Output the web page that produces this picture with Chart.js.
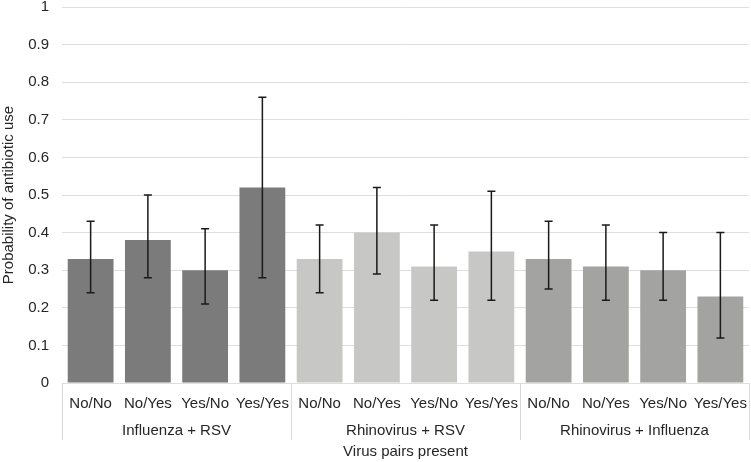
<!DOCTYPE html>
<html>
<head>
<meta charset="utf-8">
<script src="https://cdn.jsdelivr.net/npm/chart.js@4.4.0/dist/chart.umd.min.js"></script>
<style>
  html, body { margin: 0; padding: 0; background: #fff; }
  #wrap { width: 751px; height: 462px; }
</style>
</head>
<body>
<div id="wrap"><canvas id="chart" width="751" height="462"></canvas></div>
<script>
// Probability of antibiotic use by virus pair combination
const groups = ['Influenza + RSV', 'Rhinovirus + RSV', 'Rhinovirus + Influenza'];
const categories = ['No/No', 'No/Yes', 'Yes/No', 'Yes/Yes',
                    'No/No', 'No/Yes', 'Yes/No', 'Yes/Yes',
                    'No/No', 'No/Yes', 'Yes/No', 'Yes/Yes'];
const values = [0.33, 0.38, 0.30, 0.52, 0.33, 0.40, 0.31, 0.35, 0.33, 0.31, 0.30, 0.23];
const lower  = [0.24, 0.28, 0.21, 0.28, 0.24, 0.29, 0.22, 0.22, 0.25, 0.22, 0.22, 0.12];
const upper  = [0.43, 0.50, 0.41, 0.76, 0.42, 0.52, 0.42, 0.51, 0.43, 0.42, 0.40, 0.40];
const yTicks = [0, 0.1, 0.2, 0.3, 0.4, 0.5, 0.6, 0.7, 0.8, 0.9, 1];

const groupColors = ['#7b7b7b', '#c7c8c5', '#a3a3a1'];
const perGroup = categories.length / groups.length;
const barColors = categories.map((c, i) => groupColors[Math.floor(i / perGroup)]);

const fontFamily = '"Liberation Sans", Arial, sans-serif';
const textColor = '#262626';

// error bars + grouped category labels underneath the axis
const extrasPlugin = {
    id: 'extras',
    afterDatasetsDraw(chart) {
        const ctx = chart.ctx;
        const x = chart.scales.x;
        const y = chart.scales.y;
        ctx.save();
        ctx.strokeStyle = '#1a1a1a';
        ctx.lineWidth = 1.5;
        values.forEach((v, i) => {
            const px = x.getPixelForValue(i);
            const yl = y.getPixelForValue(lower[i]);
            const yu = y.getPixelForValue(upper[i]);
            ctx.beginPath();
            ctx.moveTo(px, yl);
            ctx.lineTo(px, yu);
            ctx.moveTo(px - 4, yl);
            ctx.lineTo(px + 4, yl);
            ctx.moveTo(px - 4, yu);
            ctx.lineTo(px + 4, yu);
            ctx.stroke();
        });
        ctx.restore();
    },
    afterDraw(chart) {
        const ctx = chart.ctx;
        const x = chart.scales.x;
        const area = chart.chartArea;
        const step = x.getPixelForValue(1) - x.getPixelForValue(0);
        ctx.save();
        ctx.strokeStyle = '#d9d9d9';
        ctx.lineWidth = 1;
        for (let g = 0; g <= groups.length; g++) {
            const px = Math.round(x.getPixelForValue(g * perGroup) - step / 2) + 0.5;
            ctx.beginPath();
            ctx.moveTo(px, area.bottom);
            ctx.lineTo(px, area.bottom + 57);
            ctx.stroke();
        }
        ctx.fillStyle = textColor;
        ctx.font = '15px ' + fontFamily;
        ctx.textAlign = 'center';
        ctx.textBaseline = 'middle';
        groups.forEach((name, g) => {
            const a = x.getPixelForValue(g * perGroup) - step / 2;
            const b = x.getPixelForValue((g + 1) * perGroup - 1) + step / 2;
            ctx.fillText(name, (a + b) / 2, area.bottom + 48);
        });
        ctx.restore();
    }
};

new Chart(document.getElementById('chart'), {
    type: 'bar',
    data: {
        labels: categories,
        datasets: [{
            data: values,
            backgroundColor: barColors,
            borderWidth: 0,
            barPercentage: 0.8,
            categoryPercentage: 1.0
        }]
    },
    options: {
        responsive: false,
        animation: false,
        layout: { padding: { top: 7, right: 2, left: 0, bottom: 0 } },
        plugins: {
            legend: { display: false },
            tooltip: { enabled: false }
        },
        scales: {
            x: {
                grid: { display: false },
                border: { display: false },
                ticks: {
                    color: textColor,
                    padding: 4,
                    font: { family: fontFamily, size: 15 },
                    maxRotation: 0,
                    autoSkip: false
                },
                title: {
                    display: true,
                    text: 'Virus pairs present',
                    color: textColor,
                    font: { family: fontFamily, size: 15 },
                    padding: { top: 0, bottom: 1 }
                },
                afterFit(scale) {
                    scale.height = 79;
                    scale.paddingLeft = 0;
                    scale.paddingRight = 0;
                }
            },
            y: {
                min: 0,
                max: 1,
                afterBuildTicks(scale) {
                    scale.ticks = yTicks.map(v => ({ value: v }));
                },
                grid: { color: '#dedede', drawTicks: false },
                border: { display: false },
                ticks: {
                    color: textColor,
                    padding: 13,
                    font: { family: fontFamily, size: 15 },
                    callback: v => String(Math.round(v * 10) / 10)
                },
                title: {
                    display: true,
                    text: 'Probability of antibiotic use',
                    color: textColor,
                    font: { family: fontFamily, size: 15 },
                    padding: { top: 0, bottom: 0 }
                },
                afterFit(scale) {
                    scale.width = 62;
                    scale.paddingTop = 0;
                    scale.paddingBottom = 0;
                }
            }
        }
    },
    plugins: [extrasPlugin]
});
</script>
</body>
</html>
